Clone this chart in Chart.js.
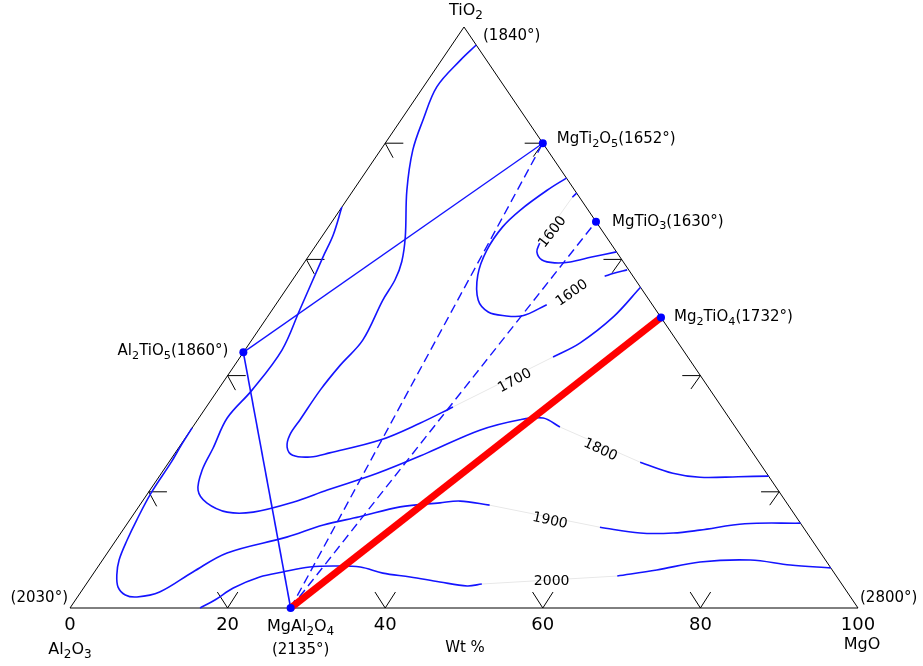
<!DOCTYPE html>
<html>
<head>
<meta charset="utf-8">
<script src="https://cdn.jsdelivr.net/npm/chart.js@4.4.0/dist/chart.umd.min.js"></script>
<style>
  body { margin: 0; background: #fff; }
  canvas { display: block; }
</style>
</head>
<body>
<canvas id="chart" width="923" height="666"></canvas>
<script>
// compositions are [MgO wt%, TiO2 wt%], the rest is Al2O3
const compoundNames = ['MgAl_2O_4', 'Al_2TiO_5', 'MgTi_2O_5', 'MgTiO_3', 'Mg_2TiO_4'];
const compoundComp = [[28.0, 0], [0, 44], [20, 80], [33.5, 66.5], [50, 50]];
const compoundMelt = [2135, 1860, 1652, 1630, 1732];
const cornerNames = ['Al_2O_3', 'MgO', 'TiO_2'];
const cornerMelt = [2030, 2800, 1840];
const axisTicks = [0, 20, 40, 60, 80, 100];
const edgeTicks = [20, 40, 60, 80];
const axisTitle = 'Wt %';

// isotherms, split where the label sits
const iso1700a = [[3.1, 96.9], [2.4, 94.3], [1.7, 89.7], [2.8, 84.0], [4.1, 78.8], [6.8, 71.9], [10.6, 63.9],
  [12.3, 59.6], [13.0, 56.5], [13.2, 53.0], [14.1, 46.1], [13.4, 41.8], [13.0, 37.5], [13.0, 32.4],
  [13.0, 29.8], [13.7, 27.7], [15.1, 26.3], [17.5, 26.0], [19.6, 26.7], [24.9, 28.9], [28.5, 31.8], [31.3, 34.6]];
const iso1700b = [[39.7, 43.2], [41.9, 45.6], [43.9, 50.1], [44.8, 55.2]];

const iso1800a = [[0, 69.0], [1.3, 64.2], [1.9, 60.4], [3.5, 51.3], [4.7, 44.4], [4.35, 37.5], [3.6, 32.7],
  [4.4, 27.5], [4.9, 23.75], [6.1, 20.3], [8.3, 18.1], [11.7, 16.5], [15.0, 16.5], [19.2, 18.2],
  [22.5, 20.3], [27.4, 23.2], [32.0, 26.7], [36.7, 30.6], [40.9, 32.4], [43.7, 32.7], [46.6, 31.15]];
const iso1800b = [[59.8, 25.1], [64.9, 23.2], [68.7, 22.5], [73.5, 22.6], [77.3, 22.7]];

const iso1900a = [[0, 31.0], [0.1, 28.0], [0.3, 25.1], [0.4, 19.8], [0.9, 15.1], [1.4, 11.7], [2.1, 8.26],
  [3.1, 5.68], [4.3, 3.6], [5.9, 2.24], [7.55, 1.9], [10.0, 2.75], [12.5, 6.2], [15.2, 9.47],
  [21.4, 12.2], [25.0, 14.3], [28.9, 15.7], [33.2, 17.4], [37.9, 18.1], [40.3, 18.4], [44.4, 17.7]];
const iso1900b = [[60.3, 13.9], [65.9, 12.9], [70.1, 12.9], [73.2, 13.4], [78.4, 14.5], [85.4, 14.6]];

const iso2000a = [[16.5, 0], [17.7, 1.38], [19.0, 3.44], [21.4, 5.34], [23.9, 6.2], [26.9, 7.06], [29.8, 7.23],
  [33.3, 7.06], [36.7, 6.0], [40.5, 5.34], [44.7, 4.48], [48.5, 3.79], [50.2, 4.13]];
const iso2000b = [[66.7, 5.5], [71.2, 6.54], [76.0, 7.92], [82.2, 8.26], [87.7, 7.4], [93.1, 6.9]];

const iso1600a = [[26.0, 74.0], [24.6, 71.9], [22.9, 68.5], [22.1, 65.6], [22.1, 61.6], [23.1, 57.3],
  [25.3, 53.0], [27.6, 50.95], [30.0, 50.3], [32.3, 50.3], [34.4, 52.2]];
const iso1600b = [[28.6, 71.4], [28.4, 70.7]];
const iso1600c = [[28.2, 62.8], [28.6, 61.3], [29.95, 59.9], [31.8, 59.4], [33.7, 59.55], [36.0, 60.4], [38.7, 61.3]];
const iso1600d = [[39.3, 57.1], [40.2, 57.6], [41.6, 58.2]];

const isoLabels = ['1700', '1800', '1900', '2000', '1600', '1600'];
const isoLabelComp = [[36.9, 39.1], [53.7, 27.2], [53.4, 15.0], [58.8, 4.65], [36.6, 54.2], [28.9, 64.7]];

// ---- helpers ----
function P(c) { return { x: c[0] + c[1] / 2, y: c[1] }; }

const BLUE = '#1414ff';
const GAP = '#e8e8e8';

function line(pts, color, width, dash, tension) {
  return {
    data: pts, showLine: true, borderColor: color, borderWidth: width,
    borderDash: dash || [], pointRadius: 0, tension: tension || 0, clip: false, fill: false
  };
}

const datasets = [];

// compound dots on top
datasets.push({
  data: compoundComp.map(P), showLine: false, pointRadius: 4, pointBackgroundColor: '#0000ff',
  pointBorderColor: '#0000ff', pointBorderWidth: 0, clip: false
});

// join MgAl2O4 - Mg2TiO4
datasets.push(line([compoundComp[0], compoundComp[4]].map(P), '#ff0000', 7));

// tie lines
datasets.push(line([compoundComp[1], compoundComp[2]].map(P), BLUE, 1.3));
datasets.push(line([compoundComp[1], compoundComp[0]].map(P), BLUE, 1.6));
datasets.push(line([compoundComp[0], compoundComp[2]].map(P), BLUE, 1.4, [9, 5]));
datasets.push(line([compoundComp[0], compoundComp[3]].map(P), BLUE, 1.4, [9, 5]));

// isotherms
[iso1700a, iso1700b, iso1800a, iso1800b, iso1900a, iso1900b, iso2000a, iso2000b,
 iso1600a, iso1600b, iso1600c, iso1600d].forEach(s => {
  datasets.push(line(s.map(P), BLUE, 1.6, [], 0.35));
});

// faint lines through the labels
[[iso1700a, iso1700b], [iso1800a, iso1800b], [iso1900a, iso1900b], [iso2000a, iso2000b], [iso1600b, iso1600c]].forEach(pair => {
  const a = pair[0][pair[0].length - 1];
  const b = pair[1][0];
  datasets.push(line([a, b].map(P), GAP, 1));
});

// triangle
datasets.push(line([[0, 0], [100, 0], [0, 100], [0, 0]].map(P), '#000', 1));

// edge ticks (plot units)
edgeTicks.forEach(t => {
  // left edge: Al2O3 - TiO2
  const lx = t / 2;
  datasets.push(line([{ x: lx + 2.3, y: t }, { x: lx, y: t }, { x: lx + 1.0, y: t - 2.5 }], '#000', 1));
  // right edge: MgO - TiO2
  const rx = 100 - t / 2;
  datasets.push(line([{ x: rx - 2.3, y: t }, { x: rx, y: t }, { x: rx - 1.2, y: t - 2.3 }], '#000', 1));
  // base
  datasets.push(line([{ x: t - 1.3, y: 2.75 }, { x: t, y: 0 }, { x: t + 1.3, y: 2.75 }], '#000', 1));
});

// text with _d subscripts
function richWidth(ctx, text, size) {
  let w = 0;
  const parts = text.split(/(_\d)/);
  parts.forEach(p => {
    if (!p) return;
    if (p[0] === '_') { ctx.font = (size * 0.75) + 'px "DejaVu Sans"'; w += ctx.measureText(p.slice(1)).width; }
    else { ctx.font = size + 'px "DejaVu Sans"'; w += ctx.measureText(p).width; }
  });
  return w;
}
function rich(ctx, text, x, y, size, align) {
  const w = richWidth(ctx, text, size);
  let cx = align === 'right' ? x - w : align === 'center' ? x - w / 2 : x;
  ctx.textAlign = 'left';
  ctx.textBaseline = 'middle';
  ctx.fillStyle = '#000';
  text.split(/(_\d)/).forEach(p => {
    if (!p) return;
    if (p[0] === '_') {
      ctx.font = (size * 0.75) + 'px "DejaVu Sans"';
      ctx.fillText(p.slice(1), cx, y + size * 0.32);
      cx += ctx.measureText(p.slice(1)).width;
    } else {
      ctx.font = size + 'px "DejaVu Sans"';
      ctx.fillText(p, cx, y);
      cx += ctx.measureText(p).width;
    }
  });
}

const labelAngles = [-28, 25, 12, 0, -35, -52];
const compoundOffsets = [[10, 19, 'center'], [-15, -1, 'right'], [14, -4, 'left'], [16, 0, 'left'], [13, 0, 'left']];

const textPlugin = {
  id: 'ternaryText',
  afterDatasetsDraw(chart) {
    const ctx = chart.ctx;
    const xs = chart.scales.x, ys = chart.scales.y;
    const px = c => { const p = P(c); return [xs.getPixelForValue(p.x), ys.getPixelForValue(p.y)]; };
    ctx.save();

    // isotherm labels
    isoLabels.forEach((lab, i) => {
      const [x, y] = px(isoLabelComp[i]);
      ctx.save();
      ctx.translate(x, y);
      ctx.rotate(labelAngles[i] * Math.PI / 180);
      ctx.font = '14px "DejaVu Sans"';
      ctx.fillStyle = '#000';
      ctx.textAlign = 'center';
      ctx.textBaseline = 'middle';
      ctx.fillText(lab, 0, 0);
      ctx.restore();
    });

    // compounds
    compoundNames.forEach((name, i) => {
      const [x, y] = px(compoundComp[i]);
      const o = compoundOffsets[i];
      if (i === 0) {
        rich(ctx, name, x + o[0], y + o[1], 16, 'center');
        rich(ctx, '(' + compoundMelt[i] + '°)', x + o[0], y + o[1] + 23, 15, 'center');
      } else {
        rich(ctx, name + '(' + compoundMelt[i] + '°)', x + o[0], y + o[1], 15, o[2]);
      }
    });

    // corners
    const [ax, ay] = px([0, 0]);
    const [mx, my] = px([100, 0]);
    const [tx, ty] = px([0, 100]);
    rich(ctx, '(' + cornerMelt[0] + '°)', ax - 2, ay - 10, 15, 'right');
    rich(ctx, '(' + cornerMelt[1] + '°)', mx + 2, my - 10, 15, 'left');
    rich(ctx, '(' + cornerMelt[2] + '°)', tx + 19, ty + 9, 15, 'left');
    rich(ctx, cornerNames[2], tx + 2, ty - 16, 16, 'center');
    rich(ctx, cornerNames[0], ax, ay + 42, 16, 'center');
    rich(ctx, cornerNames[1], mx + 4, my + 37, 16, 'center');

    // base numbers
    axisTicks.forEach(v => {
      const x = xs.getPixelForValue(v);
      ctx.font = '18px "DejaVu Sans"';
      ctx.fillStyle = '#000';
      ctx.textAlign = 'center';
      ctx.textBaseline = 'middle';
      ctx.fillText(String(v), x, ay + 17);
    });
    rich(ctx, axisTitle, xs.getPixelForValue(50) + 1, ay + 40, 15, 'center');

    ctx.restore();
  }
};

new Chart(document.getElementById('chart'), {
  type: 'scatter',
  data: { datasets: datasets },
  options: {
    responsive: false,
    animation: false,
    layout: { padding: { left: 70, right: 65, top: 27, bottom: 58 } },
    scales: {
      x: { type: 'linear', min: 0, max: 100, display: false },
      y: { type: 'linear', min: 0, max: 100, display: false }
    },
    plugins: { legend: { display: false }, tooltip: { enabled: false } }
  },
  plugins: [textPlugin]
});
</script>
</body>
</html>
